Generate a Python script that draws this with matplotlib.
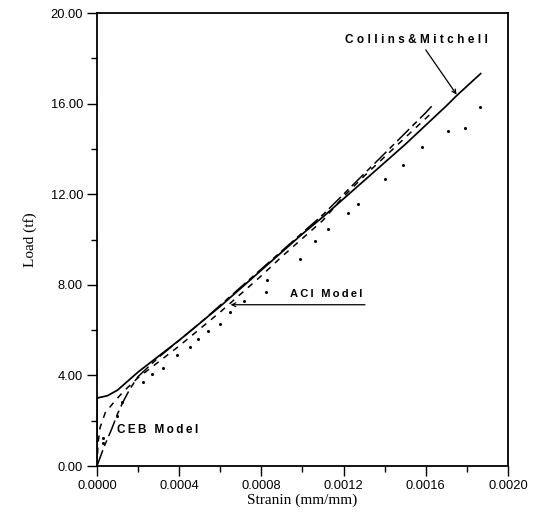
import matplotlib
matplotlib.use('Agg')
import matplotlib.pyplot as plt
from matplotlib.ticker import MultipleLocator, FormatStrFormatter

# strain (mm/mm) vs load (tf)
collins_x = [0.0, 0.0, 0.00005, 0.0001, 0.00015, 0.0002, 0.0003, 0.0004, 0.0005,
             0.0006, 0.0007, 0.0008, 0.0009, 0.0010, 0.0011, 0.0012, 0.0013,
             0.0014, 0.0015, 0.0016, 0.0017, 0.00175, 0.00187]
collins_y = [0.0, 3.0, 3.1, 3.35, 3.75, 4.15, 4.85, 5.55, 6.3,
             7.05, 7.85, 8.65, 9.45, 10.25, 11.0, 11.8, 12.6,
             13.4, 14.2, 15.05, 15.9, 16.35, 17.35]

ceb_x = [0.0, 0.000034, 0.00007, 0.0001, 0.000125, 0.00016, 0.0002, 0.0003,
         0.0004, 0.0005, 0.0006, 0.0007, 0.0008, 0.0009, 0.0010, 0.0011,
         0.0012, 0.0013, 0.0014, 0.0015, 0.0016, 0.00163]
ceb_y = [0.0, 0.84, 1.6, 2.3, 2.8, 3.4, 3.95, 4.8,
         5.55, 6.3, 7.1, 7.9, 8.7, 9.5, 10.3, 11.1,
         12.0, 12.9, 13.8, 14.7, 15.6, 15.9]

aci_x = [0.0, 0.000005, 0.000015, 0.00004, 0.00009, 0.00013, 0.0002, 0.0003,
         0.0004, 0.0005, 0.0006, 0.0007, 0.0008, 0.0009, 0.0010, 0.0011,
         0.0012, 0.0013, 0.0014, 0.0015, 0.0016, 0.00163]
aci_y = [0.0, 1.0, 1.7, 2.35, 2.9, 3.3, 3.9, 4.6,
         5.3, 6.05, 6.8, 7.6, 8.4, 9.25, 10.05, 10.85,
         11.9, 12.8, 13.65, 14.5, 15.35, 15.6]

test_x = [0.00003, 0.00003, 0.000096, 0.00012, 0.000225, 0.000266, 0.000323,
          0.000391, 0.000453, 0.000493, 0.000539, 0.000597, 0.000646, 0.000714,
          0.00082, 0.000826, 0.000988, 0.00106, 0.001125, 0.001223, 0.00127,
          0.0014, 0.00149, 0.00158, 0.00171, 0.00179, 0.001864]
test_y = [1.0, 1.25, 2.2, 2.84, 3.72, 4.05, 4.31,
          4.9, 5.27, 5.6, 5.97, 6.28, 6.81, 7.29,
          7.68, 8.22, 9.13, 9.93, 10.45, 11.17, 11.57,
          12.66, 13.28, 14.07, 14.8, 14.91, 15.86]

sans = 'Liberation Sans'
serif = 'Liberation Serif'

def spaced(s, gap='\u2009'):
    return gap.join(s)

fig = plt.figure(figsize=(5.35, 5.31), dpi=100)
ax = fig.add_axes([0.1813, 0.1224, 0.7682, 0.8531])

ax.plot(collins_x, collins_y, color='black', lw=1.25, solid_capstyle='butt')
ax.plot(ceb_x, ceb_y, color='black', lw=1.1, linestyle=(0, (11, 3, 4, 3)))
ax.plot(aci_x, aci_y, color='black', lw=1.1, linestyle=(0, (4, 4)))
ax.plot(test_x, test_y, 'o', color='black', ms=2.2, mew=0)

ax.set_xlim(0, 0.002)
ax.set_ylim(0, 20)
ax.xaxis.set_major_locator(MultipleLocator(0.0004))
ax.xaxis.set_minor_locator(MultipleLocator(0.0002))
ax.yaxis.set_major_locator(MultipleLocator(4))
ax.yaxis.set_minor_locator(MultipleLocator(2))
ax.xaxis.set_major_formatter(FormatStrFormatter('%.4f'))
ax.yaxis.set_major_formatter(FormatStrFormatter('%.2f'))
ax.tick_params(which='major', direction='out', length=7, width=1.0, pad=3)
ax.tick_params(which='minor', direction='out', length=4, width=1.0)
for lab in ax.get_xticklabels() + ax.get_yticklabels():
    lab.set_fontfamily(sans)
    lab.set_fontsize(9.3)
for sp in ax.spines.values():
    sp.set_linewidth(1.3)

ax.set_xlabel('Stranin (mm/mm)', fontfamily=serif, fontsize=11, labelpad=1)
ax.set_ylabel('Load (tf)', fontfamily=serif, fontsize=11, labelpad=10)

# curve labels
ax.text(0.001207, 18.8, spaced('Collins&Mitchell', '\u2009\u200a'),
        fontfamily=sans, fontweight='bold', fontsize=8.5, ha='left', va='center')
ax.annotate('', xy=(0.00175, 16.4), xytext=(0.0016, 18.37),
            arrowprops=dict(arrowstyle='->', lw=0.9, shrinkA=0, shrinkB=0,
                            mutation_scale=7))
ax.text(0.00094, 7.6, spaced('ACI Model'), fontfamily=sans,
        fontweight='bold', fontsize=8, ha='left', va='center')
ax.annotate('', xy=(0.00065, 7.12), xytext=(0.001304, 7.12),
            arrowprops=dict(arrowstyle='->', lw=0.9, shrinkA=0, shrinkB=0,
                            mutation_scale=7))
ax.text(0.0000973, 1.59, spaced('CEB Model'), fontfamily=sans,
        fontweight='bold', fontsize=8.5, ha='left', va='center')

fig.savefig('out.png', dpi=100)
